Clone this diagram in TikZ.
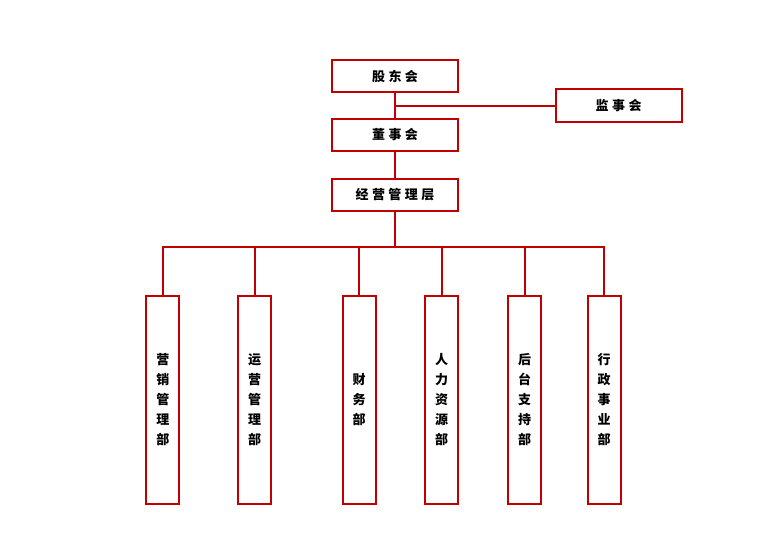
\documentclass[tikz,border=0pt]{standalone}
\usepackage{fontspec}
\newfontfamily\cjk{Noto Sans CJK SC}
\definecolor{orgred}{RGB}{192,0,0}
\newcommand{\chsp}{\hspace{3.5pt}}
\begin{document}
\begin{tikzpicture}[x=1pt,y=-1pt,
  box/.style={draw=orgred,line width=2pt,fill=white,inner sep=0pt,font=\cjk\bfseries\fontsize{13}{13}\selectfont},
  topbox/.style={box,minimum width=126pt,minimum height=32pt},
  deptbox/.style={box,minimum width=33pt,minimum height=208pt,align=center,font=\cjk\bfseries\fontsize{13}{20}\selectfont},
  link/.style={draw=orgred,line width=2pt}]
\useasboundingbox (0,0) rectangle (784,554);
\node[topbox] (gd) at (395,76) {股\chsp 东\chsp 会};
\node[topbox,minimum height=33pt] (js) at (618.5,105.7) {监\chsp 事\chsp 会};
\node[topbox] (ds) at (395,135) {董\chsp 事\chsp 会};
\node[topbox] (jy) at (395,194.5) {经\chsp 营\chsp 管\chsp 理\chsp 层};
\coordinate (bus) at (395,247);
\node[deptbox] (m1) at (162.8,400) {营\\销\\管\\理\\部};
\node[deptbox] (m2) at (254.5,400) {运\\营\\管\\理\\部};
\node[deptbox] (m3) at (359,400) {财\\务\\部};
\node[deptbox] (m4) at (441.7,400) {人\\力\\资\\源\\部};
\node[deptbox] (m5) at (524.7,400) {后\\台\\支\\持\\部};
\node[deptbox] (m6) at (604.2,400) {行\\政\\事\\业\\部};
\draw[link] (gd.south) -- (ds.north);
\draw[link] (gd.south |- js.west) -- (js.west);
\draw[link] (ds.south) -- (jy.north);
\draw[link] (jy.south) -- (bus);
\draw[link] (m1.north) -- (m1.north |- bus) -- (m6.north |- bus) -- (m6.north);
\draw[link] (m2.north) -- (m2.north |- bus);
\draw[link] (m3.north) -- (m3.north |- bus);
\draw[link] (m4.north) -- (m4.north |- bus);
\draw[link] (m5.north) -- (m5.north |- bus);
\end{tikzpicture}
\end{document}
